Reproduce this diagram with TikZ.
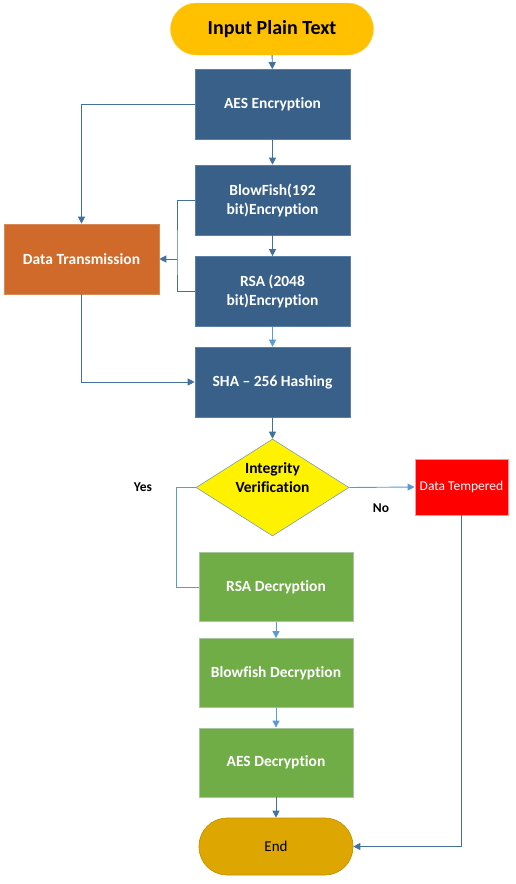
\documentclass[tikz,border=0pt]{standalone}
\usepackage{fontspec}
\setmainfont{Carlito}[Ligatures=NoCommon]
\usetikzlibrary{shapes.geometric,arrows.meta}
\definecolor{encblue}{HTML}{386089}
\definecolor{encedge}{HTML}{5A80A8}
\definecolor{dtorange}{HTML}{D06A2A}
\definecolor{decgreen}{HTML}{70AD47}
\definecolor{greenedge}{HTML}{A8C4A0}
\definecolor{startgold}{HTML}{FFC000}
\definecolor{endgold}{HTML}{DDA600}
\definecolor{linedark}{HTML}{41719C}
\definecolor{linelight}{HTML}{5B9BD5}
\tikzset{
  box/.style={rectangle, minimum width=155pt, minimum height=70pt, align=center, inner sep=2pt, font=\fontsize{15.5}{19}\selectfont\bfseries, text=white},
  encbox/.style={box, fill=encblue, draw=encedge, line width=0.6pt},
  decbox/.style={box, fill=decgreen, draw=greenedge, line width=0.8pt, minimum width=154pt, minimum height=69pt},
  conn/.style={draw=linedark, line width=0.9pt},
  connl/.style={draw=linelight, line width=0.9pt},
  tip/.style={-{Triangle[length=7pt,width=7pt]}},
  lab/.style={font=\fontsize{13.5}{16}\selectfont\bfseries, text=black}
}
\begin{document}
\begin{tikzpicture}[x=1pt,y=-1pt]
\useasboundingbox (0,0) rectangle (515,884);
% nodes
\node[rectangle, rounded corners=26pt, fill=startgold, draw=startgold!80!white, minimum width=203pt, minimum height=52pt, font=\fontsize{20}{24}\selectfont\bfseries] (inp) at (272,29) {Input Plain Text};
\node[encbox] (aes) at (272.5,104.5) {AES Encryption};
\node[encbox] (bf) at (272.5,200) {BlowFish(192\\bit)Encryption};
\node[encbox] (rsa) at (272.5,291.5) {RSA (2048\\bit)Encryption};
\node[encbox] (sha) at (272.5,382) {SHA -- 256 Hashing};
\node[box, fill=dtorange, draw=dtorange!80!white, line width=0.6pt] (dt) at (81.5,259) {Data Transmission};
\node[diamond, aspect=1.58, fill=yellow, draw=linedark!70!white, line width=0.6pt, minimum width=153pt, minimum height=97pt, inner sep=0pt] (iv) at (272.5,487.5) {};
\node[font=\fontsize{15.5}{19}\selectfont\bfseries, align=center] (ivt) at (272.5,478) {Integrity\\Verification};
\node[rectangle, fill=red, draw=red!40!white, line width=0.8pt, minimum width=93pt, minimum height=56pt, font=\fontsize{13.5}{16}\selectfont, text=white] (dtemp) at (461.5,487) {Data Tempered};
\node[decbox] (rsad) at (276,587) {RSA Decryption};
\node[decbox] (bfd) at (276,673) {Blowfish Decryption};
\node[decbox] (aesd) at (276,762.5) {AES Decryption};
\node[rectangle, rounded corners=28pt, fill=endgold, draw=endgold!85!black, line width=0.6pt, minimum width=154pt, minimum height=57pt, font=\fontsize{15}{18}\selectfont] (endn) at (276,846.5) {End};
\node[lab] (yes) at (143,487) {Yes};
\node[lab] (no) at (381,508) {No};
% coordinates
\coordinate (bfl) at (177,259);
% connectors
\draw[conn,tip] (inp) -- (aes);
\draw[conn,tip] (aes.west) -| (dt.north);
\draw[conn,tip] (aes) -- (bf);
\draw[conn] (bf.west) -| (bfl) |- (rsa.west);
\draw[conn,tip] (bfl) -- (dt.east);
\draw[conn,tip] (bf) -- (rsa);
\draw[connl,tip] (rsa) -- (sha);
\draw[conn,tip] (dt.south) |- (sha.west);
\draw[conn,tip] (sha) -- (iv.north);
\draw[connl] (iv.west) -- ++(-19,0) |- (rsad.west);
\draw[connl,tip] (iv.east) -- (dtemp.west);
\draw[conn,tip] (dtemp.south) |- (endn.east);
\draw[connl,tip] (rsad) -- (bfd);
\draw[connl,tip] (bfd) -- (aesd);
\draw[conn,tip] (aesd) -- (endn);
\end{tikzpicture}
\end{document}
